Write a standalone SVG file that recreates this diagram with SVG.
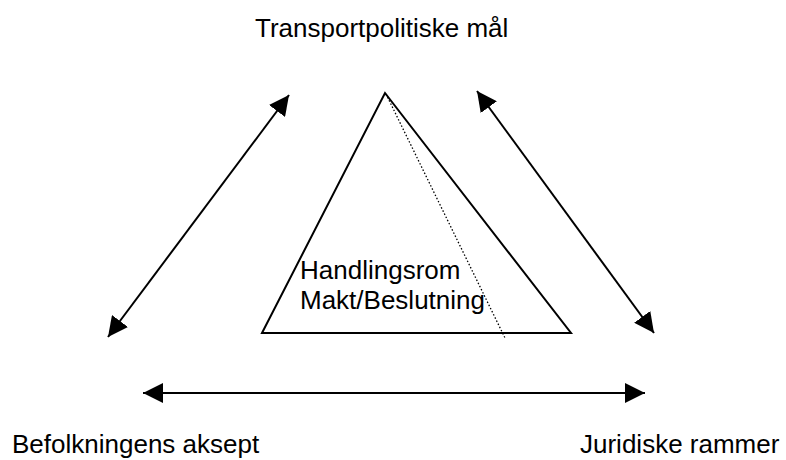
<svg xmlns="http://www.w3.org/2000/svg" width="786" height="460" viewBox="0 0 786 460">
  <style>
    text { font-family: "Liberation Sans", Arial, sans-serif; font-size: 26px; fill: #000; }
    .edge { stroke: #000; stroke-width: 2; fill: none; }
    .tri { stroke: #000; stroke-width: 2; fill: none; stroke-linejoin: miter; }
    .dots { stroke: #000; stroke-width: 1.3; stroke-dasharray: 1.5 2; fill: none; }
  </style>
  <defs>
    <marker id="head" viewBox="0 0 20 20" markerWidth="20" markerHeight="20" refX="20" refY="10" orient="auto-start-reverse" markerUnits="userSpaceOnUse">
      <path d="M0,0 L20,10 L0,20 Z" fill="#000"/>
    </marker>
  </defs>
  <rect width="786" height="460" fill="#fff"/>

  <g id="node-transport">
    <text x="255" y="37">Transportpolitiske mål</text>
  </g>
  <g id="node-befolkning">
    <text x="12" y="453">Befolkningens aksept</text>
  </g>
  <g id="node-juridiske">
    <text x="580" y="453">Juridiske rammer</text>
  </g>
  <g id="node-handlingsrom">
    <path class="tri" d="M262,333 L385,93 L571,333 Z"/>
    <line class="dots" x1="386" y1="94" x2="505" y2="338"/>
    <text x="300" y="279">Handlingsrom</text>
    <text x="300" y="309">Makt/Beslutning</text>
  </g>

  <g id="connectors">
    <line class="edge" x1="108" y1="337" x2="289" y2="95" marker-start="url(#head)" marker-end="url(#head)"/>
    <line class="edge" x1="477" y1="91" x2="654" y2="333" marker-start="url(#head)" marker-end="url(#head)"/>
    <line class="edge" x1="143" y1="393" x2="645" y2="393" marker-start="url(#head)" marker-end="url(#head)"/>
  </g>
</svg>
